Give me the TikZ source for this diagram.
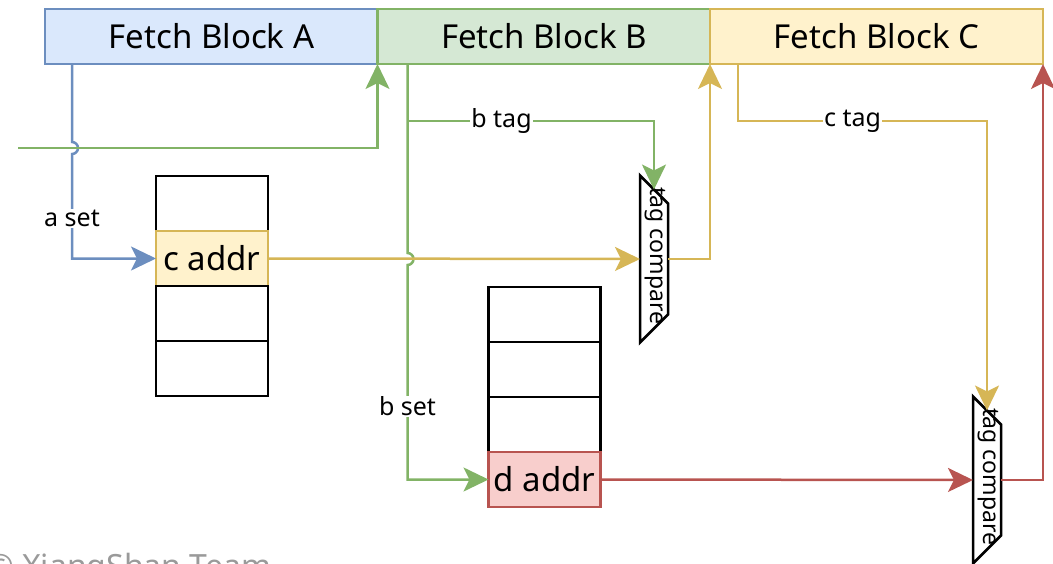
\documentclass[tikz,border=0pt]{standalone}
\usepackage{fontspec}
\setmainfont{Noto Sans}
\usetikzlibrary{positioning,arrows.meta}

\definecolor{blueFill}{HTML}{DAE8FC}
\definecolor{blueLine}{HTML}{6C8EBF}
\definecolor{greenFill}{HTML}{D5E8D4}
\definecolor{greenLine}{HTML}{82B366}
\definecolor{yellowFill}{HTML}{FFF2CC}
\definecolor{yellowLine}{HTML}{D6B656}
\definecolor{redFill}{HTML}{F8CECC}
\definecolor{redLine}{HTML}{B85450}
\definecolor{markGray}{HTML}{9A9A9A}

\begin{document}
\begin{tikzpicture}[x=1pt, y=-1pt,
    block/.style={draw, line width=2.5pt, outer sep=0pt, inner sep=0pt,
      minimum width=333pt, minimum height=55pt, font=\fontsize{33}{38}\selectfont},
    entry/.style={draw=black, line width=2.5pt, outer sep=0pt, inner sep=0pt,
      minimum width=112pt, minimum height=55pt, font=\fontsize{33}{38}\selectfont},
    cmpbox/.style={inner sep=0pt, outer sep=0pt, minimum width=28pt, minimum height=167pt},
    cmpline/.style={draw=black, fill=white, line width=2.5pt, line join=miter},
    cmptext/.style={rotate=-90, inner sep=0pt, font=\fontsize{23}{27}\selectfont},
    lbl/.style={fill=white, text=black, inner sep=1pt, font=\fontsize{25}{29}\selectfont},
    wire/.style={line width=2.5pt, -{Stealth[length=25pt,width=24pt,inset=6pt]}},
    bwire/.style={wire, blueLine},
    gwire/.style={wire, greenLine},
    ywire/.style={wire, yellowLine},
    rwire/.style={wire, redLine}]
  \useasboundingbox (0,0) rectangle (1053,563);
  \clip (0,0) rectangle (1053,563);

  % Fetch blocks
  \node[block, fill=blueFill, draw=blueLine] (fbA) at (211.5,36.5) {Fetch Block A};
  \node[block, fill=greenFill, draw=greenLine] (fbB) at (544,36.5) {Fetch Block B};
  \node[block, fill=yellowFill, draw=yellowLine] (fbC) at (876.5,36.5) {Fetch Block C};

  % first table
  \node[entry] (s1a) at (212,203.5) {};
  \node[entry, fill=yellowFill, draw=yellowLine, below=0pt of s1a] (caddr) {c addr};
  \node[entry, below=0pt of caddr] (s1c) {};
  \node[entry, below=0pt of s1c] (s1d) {};

  % second table
  \node[entry] (s2a) at (544.5,314.5) {};
  \node[entry, below=0pt of s2a] (s2b) {};
  \node[entry, below=0pt of s2b] (s2c) {};
  \node[entry, fill=redFill, draw=redLine, below=0pt of s2c] (daddr) {d addr};

  % tag compare
  \node[cmpbox] (tc1) at (654,259) {};
  \draw[cmpline] (tc1.north west) -- ([yshift=-28pt]tc1.north east)
    -- ([yshift=28pt]tc1.south east) -- (tc1.south west) -- cycle;
  \node[cmptext] (tc1t) at ([xshift=1pt,yshift=3pt]tc1.center) {tag compare};
  \node[cmpbox] (tc2) at (987,480) {};
  \draw[cmpline] (tc2.north west) -- ([yshift=-28pt]tc2.north east)
    -- ([yshift=28pt]tc2.south east) -- (tc2.south west) -- cycle;
  \node[cmptext] (tc2t) at ([xshift=1pt,yshift=3pt]tc2.center) {tag compare};

  \coordinate (gin) at (18,148);
  \coordinate (btap) at (408,121);

  % wires
  \draw[bwire] ([xshift=27pt]fbA.south west) -- ++(0,78)
    arc[start angle=-90, end angle=90, radius=6]
    |- node[lbl, pos=0.31] {a set} (caddr.west);
  \draw[gwire] (gin) -| (fbB.south west);
  \draw[gwire] ([xshift=30pt]fbB.south west) -- ++(0,189)
    arc[start angle=-90, end angle=90, radius=6]
    |- node[lbl, pos=0.33] {b set} (daddr.west);
  \draw[gwire] (btap) -| node[lbl, pos=0.19] {b tag} ([yshift=-14pt]tc1.north);
  \draw[ywire] (caddr.east) -- (tc1.west);
  \draw[ywire] (tc1.east) -| (fbC.south west);
  \draw[ywire] ([xshift=28pt]fbC.south west) -- ++(0,57)
    -| node[lbl, pos=0.23] {c tag} ([yshift=-14pt]tc2.north);
  \draw[rwire] (daddr.east) -- (tc2.west);
  \draw[rwire] (tc2.east) -| (fbC.south east);

  \node[anchor=base west, text=markGray, inner sep=0pt,
    font=\fontsize{32}{37}\selectfont] (mark) at (-13,577) {© XiangShan Team};
\end{tikzpicture}
\end{document}
